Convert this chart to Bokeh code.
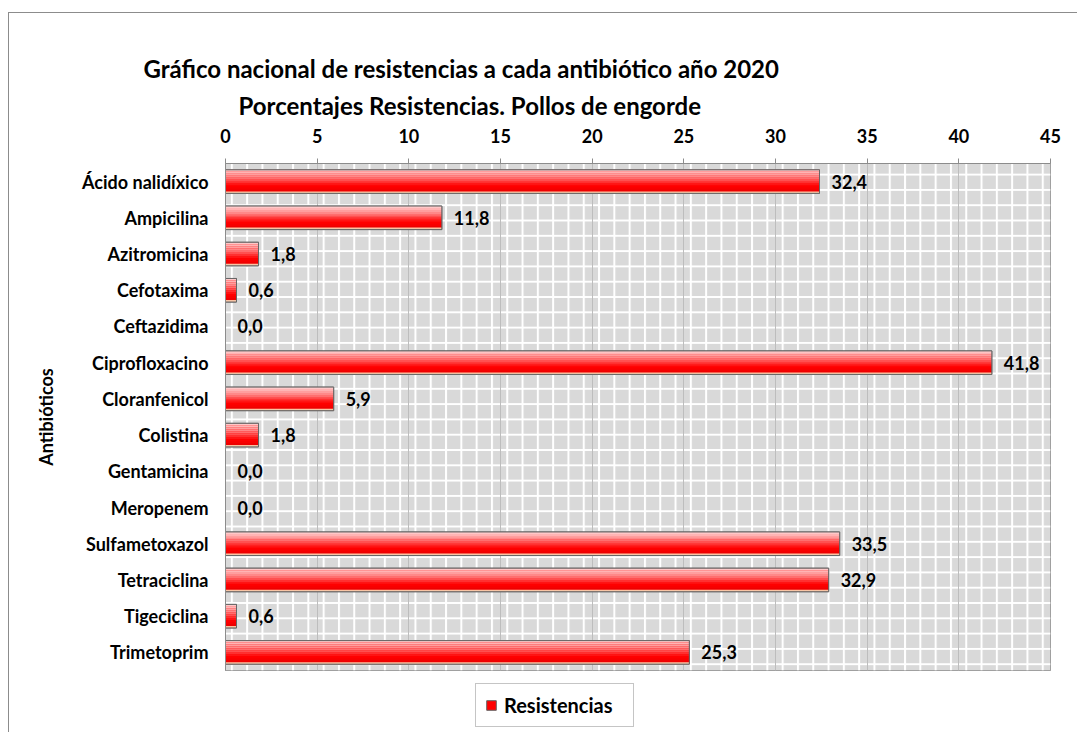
from bokeh.plotting import figure
from bokeh.layouts import column
from bokeh.models import (FactorRange, Range1d, BoxAnnotation, Grid, FixedTicker,
                          ColumnDataSource, Legend, LegendItem, Title)
from bokeh.transform import dodge
from bokeh.core.properties import value
from bokeh.embed import file_html
from bokeh.resources import INLINE

title_line1 = "Gráfico nacional de resistencias a cada antibiótico año 2020"
title_line2 = "Porcentajes Resistencias. Pollos de engorde"
y_label = "Antibióticos"
series_name = "Resistencias"

antibiotics = ["Ácido nalidíxico", "Ampicilina", "Azitromicina", "Cefotaxima",
               "Ceftazidima", "Ciprofloxacino", "Cloranfenicol", "Colistina",
               "Gentamicina", "Meropenem", "Sulfametoxazol", "Tetraciclina",
               "Tigeciclina", "Trimetoprim"]
resistances = [32.4, 11.8, 1.8, 0.6, 0.0, 41.8, 5.9, 1.8, 0.0, 0.0, 33.5, 32.9, 0.6, 25.3]
x_ticks = [0, 5, 10, 15, 20, 25, 30, 35, 40, 45]

FONT = "Lato"
BORDER = "1px solid #8c8c8c"
labels = [f"{v:.1f}".replace(".", ",") for v in resistances]
src = ColumnDataSource(dict(cat=antibiotics, val=resistances, lab=labels))

W = 1069
p = figure(width=W, height=667, output_backend="svg", toolbar_location=None,
           y_range=FactorRange(factors=antibiotics[::-1], range_padding=0),
           x_range=Range1d(0, 45), x_axis_location="above",
           min_border_left=216, min_border_right=28, min_border_top=150,
           min_border_bottom=10, margin=(12, 0, 0, 8))
p.styles = {"border-left": BORDER, "border-top": BORDER}
p.title = None
p.outline_line_color = "#8c8c8c"
p.background_fill_color = "#d9d9d9"
p.border_fill_color = "white"

# patterned background
bg = BoxAnnotation(fill_color="#d9d9d9", fill_alpha=1.0, line_alpha=0,
                   hatch_pattern="+", hatch_color="white", hatch_scale=15.3,
                   hatch_weight=2, level="underlay")
p.add_layout(bg)
p.xgrid.visible = False
p.ygrid.visible = False
g = Grid(dimension=0, ticker=FixedTicker(ticks=x_ticks), grid_line_color="#bdbdbd",
         grid_line_width=1, level="underlay")
p.add_layout(g)

BAR_H = 0.65
base_style = dict(fill_color="#ff0000", line_color="#666666", line_width=1)
p.hbar(y="cat", right="val", left=0, height=BAR_H, source=src, **base_style)
# vertical gradient strips (top light pink to red, peach rim at bottom)
grad = ["#ffc8c8", "#ffb4b4", "#ff9e9e", "#ff8888", "#ff6e6e", "#ff5050",
        "#ff3030", "#ff1414", "#ff0000", "#f80000", "#ee0000", "#f8c4a4"]
n = len(grad)
sh = BAR_H / n
for i, c in enumerate(grad):
    off = BAR_H / 2 - (i + 0.5) * sh
    p.hbar(y=dodge("cat", off, range=p.y_range), right="val", left=0,
           height=sh * 1.02, source=src, fill_color=c, line_alpha=0)
p.hbar(y="cat", right="val", left=0, height=BAR_H, source=src,
       fill_alpha=0, line_color="#666666", line_width=1)

p.text(x="val", y="cat", text="lab", source=src, x_offset=12,
       text_baseline="middle", text_align="left", text_font=value(FONT),
       text_font_style="bold", text_font_size="18px", text_color="black")

xa = p.xaxis[0]
xa.ticker = FixedTicker(ticks=x_ticks)
xa.axis_line_color = "#8c8c8c"
xa.major_tick_line_color = "#8c8c8c"
xa.major_tick_out = 5
xa.major_tick_in = 0
xa.minor_tick_line_color = None
xa.major_label_text_font = FONT
xa.major_label_text_font_style = "bold"
xa.major_label_text_font_size = "18px"
xa.major_label_text_color = "black"
xa.major_label_standoff = 16

ya = p.yaxis[0]
ya.axis_line_color = "#8c8c8c"
ya.major_tick_line_color = None
ya.minor_tick_line_color = None
ya.major_label_text_font = FONT
ya.major_label_text_font_style = "bold"
ya.major_label_text_font_size = "18px"
ya.major_label_text_color = "black"
ya.major_label_standoff = 11
ya.axis_label = y_label
ya.axis_label_text_font = FONT
ya.axis_label_text_font_style = "bold"
ya.axis_label_text_font_size = "18px"
ya.axis_label_text_color = "black"
ya.axis_label_standoff = 22

t2 = Title(text=title_line2, align="left", offset=13, text_font=FONT,
           text_font_style="bold", text_font_size="24px", text_color="black",
           standoff=12)
t1 = Title(text=title_line1, align="left", offset=-82, text_font=FONT,
           text_font_style="bold", text_font_size="24px", text_color="black",
           standoff=0)
p.add_layout(t2, "above")
p.add_layout(t1, "above")

# legend strip below the chart (its frame is aligned with the chart frame)
q = figure(width=W, height=53, output_backend="svg", toolbar_location=None,
           x_range=Range1d(0, 1), y_range=Range1d(0, 1),
           min_border=0, margin=(0, 0, 0, 8))
q.styles = {"border-left": BORDER}
q.axis.visible = False
q.grid.visible = False
q.outline_line_color = None
q.background_fill_color = "white"
q.border_fill_color = "white"
key = q.hbar(y=[-10], right=[0.5], left=0, height=0.5, **base_style)
legend = Legend(items=[LegendItem(label=series_name, renderers=[key])],
                location=(250, 5), orientation="horizontal",
                label_text_font=FONT, label_text_font_style="bold",
                label_text_font_size="20px", label_text_color="black",
                glyph_width=12, glyph_height=12, border_line_color="#8c8c8c",
                border_line_width=1, background_fill_color="white",
                padding=9, margin=0, label_standoff=7, label_width=120)
q.add_layout(legend)

layout = column(p, q, spacing=0)
open("out.html", "w").write(file_html(layout, INLINE))
